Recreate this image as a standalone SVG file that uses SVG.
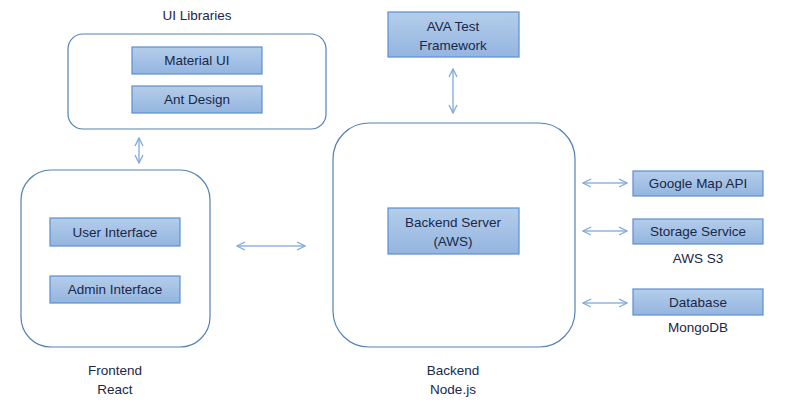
<svg xmlns="http://www.w3.org/2000/svg" width="796" height="416" viewBox="0 0 796 416">
<defs>
<linearGradient id="g" x1="0" y1="0" x2="0" y2="1">
<stop offset="0" stop-color="#b4cdea"/>
<stop offset="1" stop-color="#94b5e0"/>
</linearGradient>
<marker id="ah" viewBox="0 0 10 10" refX="9" refY="5" markerWidth="10" markerHeight="10" markerUnits="userSpaceOnUse" orient="auto-start-reverse">
<path d="M1,1 L9,5 L1,9" fill="none" stroke="#7fa8dc" stroke-width="1.3"/>
</marker>
<style>
.cont{fill:#fff;stroke:#5581b4;stroke-width:1.2}
.box{fill:url(#g);stroke:#5b8fd0;stroke-width:1.2}
text{font-family:"Liberation Sans",Arial,sans-serif;font-size:13.5px;fill:#1a2747;text-anchor:middle}
.conn{stroke:#8fb3e0;stroke-width:1.5;fill:none;marker-start:url(#ah);marker-end:url(#ah)}
</style>
</defs>
<rect width="796" height="416" fill="#fff"/>

<g id="ui-libraries">
<text x="197" y="20">UI Libraries</text>
<rect class="cont" x="68" y="34" width="258" height="95" rx="15"/>
</g>
<g id="material-ui">
<rect class="box" x="132" y="47" width="130" height="27"/>
<text x="197" y="65">Material UI</text>
</g>
<g id="ant-design">
<rect class="box" x="132" y="86" width="130" height="27"/>
<text x="197" y="104">Ant Design</text>
</g>

<g id="frontend">
<rect class="cont" x="21" y="170" width="189" height="177" rx="30"/>
<text x="115" y="375">Frontend</text>
<text x="115" y="394">React</text>
</g>
<g id="user-interface">
<rect class="box" x="50" y="218" width="130" height="28"/>
<text x="115" y="237">User Interface</text>
</g>
<g id="admin-interface">
<rect class="box" x="50" y="276" width="130" height="27"/>
<text x="115" y="294">Admin Interface</text>
</g>

<g id="backend">
<rect class="cont" x="333" y="123" width="242" height="224" rx="36"/>
<text x="453" y="375">Backend</text>
<text x="453" y="394">Node.js</text>
</g>
<g id="backend-server">
<rect class="box" x="388" y="208" width="131" height="46"/>
<text x="453" y="227">Backend Server</text>
<text x="453" y="246">(AWS)</text>
</g>

<g id="ava">
<rect class="box" x="388" y="12" width="131" height="45"/>
<text x="453" y="31">AVA Test</text>
<text x="453" y="50">Framework</text>
</g>

<g id="google-map-api">
<rect class="box" x="633" y="171" width="130" height="25"/>
<text x="698" y="188">Google Map API</text>
</g>
<g id="storage-service">
<rect class="box" x="633" y="219" width="130" height="25"/>
<text x="698" y="236">Storage Service</text>
<text x="698" y="263">AWS S3</text>
</g>
<g id="database">
<rect class="box" x="633" y="289" width="130" height="26"/>
<text x="698" y="307">Database</text>
<text x="698" y="332">MongoDB</text>
</g>

<g id="connectors">
<line class="conn" x1="139" y1="138" x2="139" y2="163"/>
<line class="conn" x1="453" y1="69" x2="453" y2="113"/>
<line class="conn" x1="237" y1="246" x2="305" y2="246"/>
<line class="conn" x1="583" y1="183" x2="627" y2="183"/>
<line class="conn" x1="583" y1="231" x2="627" y2="231"/>
<line class="conn" x1="583" y1="303" x2="627" y2="303"/>
</g>
</svg>
